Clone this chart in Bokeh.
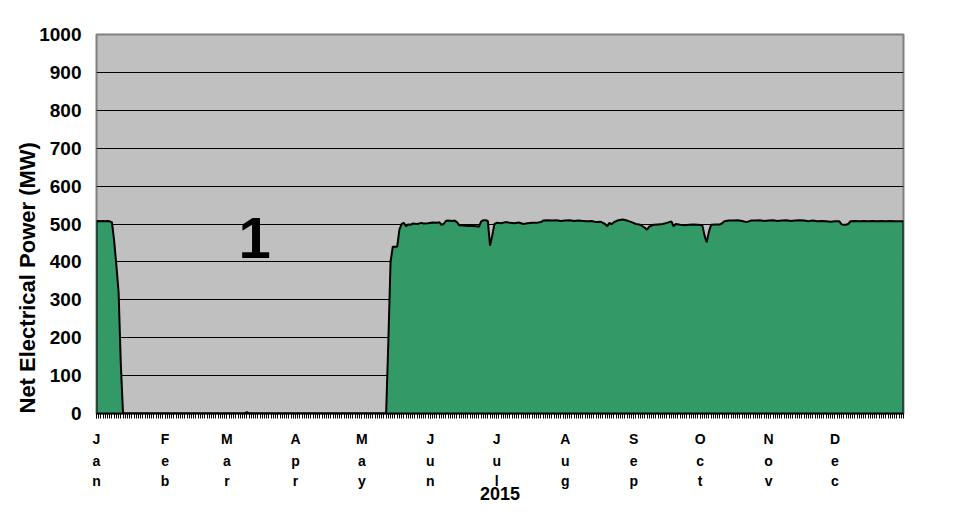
from math import pi
from bokeh.plotting import figure
from bokeh.models import Range1d, FixedTicker, LinearAxis, Label, Grid, Title
from bokeh.embed import file_html
from bokeh.resources import INLINE

# ---- data (day of year 2015, net electrical power MW) ----
days = [0, 0, 1, 2, 3, 4, 5, 6, 7, 8, 9, 10, 11, 12, 67, 68, 69,
        131, 132, 133, 134, 136, 137, 138, 139, 140, 141, 142, 143, 145, 147, 148, 150,
        152, 154, 155, 156, 157, 158, 159, 161, 162, 163, 164, 166, 168, 170, 172, 173,
        174, 175, 176, 177, 178, 179, 180, 181, 183, 185, 187, 189, 191, 193, 195, 197,
        199, 201, 202, 204, 206, 208, 210, 212, 214, 216, 218, 220, 222, 224, 226, 228,
        230, 231, 232, 233, 234, 236, 238, 240, 242, 244, 246, 248, 249, 250, 252, 254,
        256, 258, 260, 261, 262, 264, 266, 268, 270, 272, 274, 275, 276, 277, 278, 280,
        282, 283, 284, 286, 288, 290, 292, 294, 296, 298, 300, 302, 304, 306, 308, 310,
        312, 314, 316, 318, 320, 322, 324, 326, 328, 330, 332, 334, 336, 337, 338, 339,
        340, 341, 343, 345, 347, 349, 351, 353, 355, 357, 359, 361, 363, 365, 365]
power = [0, 507, 508, 507, 508, 507, 508, 507, 504, 455, 390, 320, 130, 0, 0, 4, 0,
         0, 190, 400, 440, 440, 485, 500, 503, 494, 499, 498, 501, 500, 503, 501, 502,
         504, 503, 505, 498, 500, 508, 509, 508, 509, 505, 497, 496, 495, 495, 494, 493,
         507, 510, 510, 508, 443, 470, 500, 503, 502, 505, 503, 502, 504, 500, 502, 503,
         503, 505, 509, 510, 509, 510, 508, 509, 510, 508, 509, 508, 507, 508, 505, 506,
         500, 494, 503, 499, 505, 510, 512, 509, 505, 500, 498, 490, 485, 493, 498, 499,
         500, 503, 507, 494, 500, 498, 497, 498, 499, 498, 497, 470, 452, 480, 498, 499,
         499, 502, 507, 509, 509, 510, 508, 505, 509, 509, 510, 508, 509, 510, 508, 509,
         510, 508, 509, 510, 509, 507, 509, 507, 508, 507, 506, 507, 507, 499, 498, 498,
         500, 507, 508, 507, 508, 507, 508, 507, 508, 507, 508, 507, 507, 507, 0]

month_starts = [0, 31, 59, 90, 120, 151, 181, 212, 243, 273, 304, 334]
month_names = ["Jan", "Feb", "Mar", "Apr", "May", "Jun",
               "Jul", "Aug", "Sep", "Oct", "Nov", "Dec"]
y_ticks = [0, 100, 200, 300, 400, 500, 600, 700, 800, 900, 1000]
grid_ticks = [100, 200, 300, 400, 500, 600, 700, 800, 900]
year_label = "2015"
unit_label = "1"
y_title = "Net Electrical Power (MW)"

FONT = "Liberation Sans"

p = figure(width=959, height=513, output_backend="svg", toolbar_location=None,
           x_range=Range1d(0, 365), y_range=Range1d(0, 1000),
           x_axis_type=None, y_axis_type=None,
           min_border_left=96, min_border_right=56, min_border_top=34,
           min_border_bottom=100,
           background_fill_color="#C0C0C0", border_fill_color="white",
           outline_line_color="#808080", outline_line_width=2)

p.add_layout(Grid(dimension=1, ticker=FixedTicker(ticks=grid_ticks),
                  grid_line_color="black", grid_line_width=1))

p.varea(x=days, y1=0, y2=power, fill_color="#339966", fill_alpha=1.0)
p.line(days, power, line_color="black", line_width=2)

# y axis
yax = LinearAxis(ticker=FixedTicker(ticks=y_ticks))
yax.axis_line_color = None
yax.major_tick_line_color = None
yax.minor_tick_line_color = None
yax.major_tick_out = 0
yax.major_tick_in = 0
yax.major_label_standoff = 15
yax.major_label_text_font = FONT
yax.major_label_text_font_style = "bold"
yax.major_label_text_font_size = "19px"
yax.major_label_text_color = "black"
p.add_layout(yax, "left")

p.add_layout(Title(text=y_title, align="left", offset=0, standoff=-6,
                   text_font=FONT, text_font_style="bold",
                   text_font_size="22px", text_color="black"), "left")

# x axes: three stacked rows of letters
rows = [{m: n[i] for m, n in zip(month_starts, month_names)} for i in range(3)]
standoffs = [12, 3, 1]
for i in range(3):
    ax = LinearAxis(ticker=FixedTicker(ticks=month_starts,
                                       minor_ticks=list(range(0, 366))),
                    major_label_overrides=rows[i])
    ax.major_label_text_font = FONT
    ax.major_label_text_font_style = "bold"
    ax.major_label_text_font_size = "14px"
    ax.major_label_text_color = "black"
    ax.major_label_standoff = standoffs[i]
    if i == 0:
        ax.axis_line_color = "black"
        ax.axis_line_width = 2
        ax.major_tick_out = 5
        ax.major_tick_in = 0
        ax.minor_tick_out = 5
        ax.minor_tick_in = 0
        ax.major_tick_line_color = "black"
        ax.minor_tick_line_color = "black"
    else:
        ax.axis_line_color = None
        ax.major_tick_line_color = None
        ax.minor_tick_line_color = None
        ax.major_tick_out = 0
        ax.major_tick_in = 0
        ax.minor_tick_out = 0
        ax.minor_tick_in = 0
    p.add_layout(ax, "below")

p.add_layout(Title(text=year_label, align="center", offset=-9, standoff=-16,
                   text_font=FONT, text_font_style="bold",
                   text_font_size="18px", text_color="black"), "below")

p.add_layout(Label(x=71.5, y=462, text=unit_label,
                   text_align="center", text_baseline="middle",
                   text_font=FONT, text_font_style="bold",
                   text_font_size="58px", text_color="black"))

open("out.html", "w").write(file_html(p, INLINE))
